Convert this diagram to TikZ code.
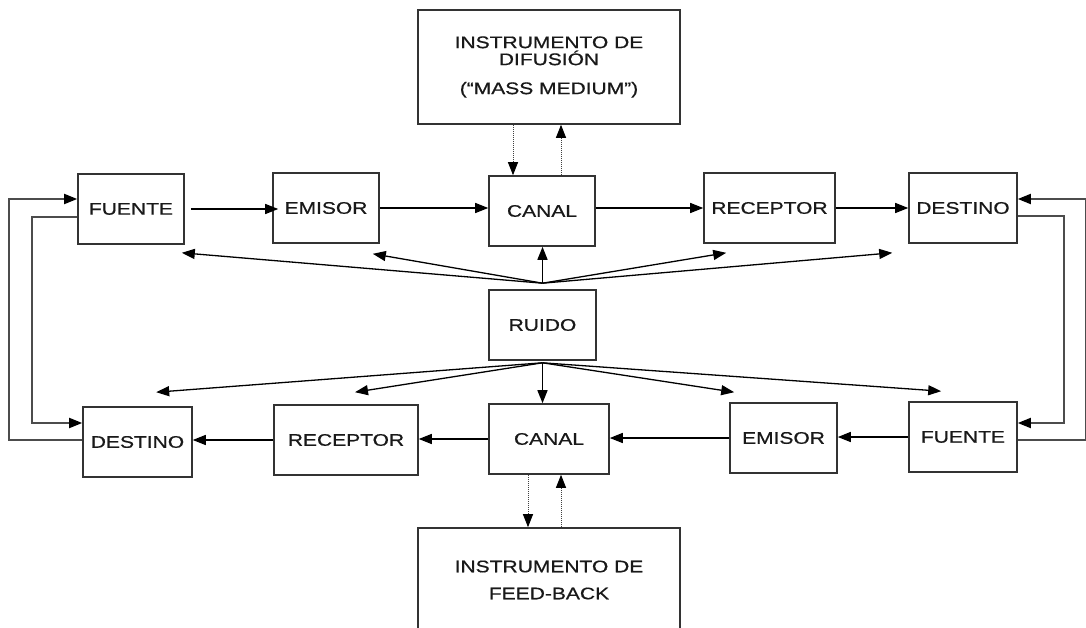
\documentclass[tikz,border=0pt]{standalone}
\usepackage{fontspec}
\setmainfont[FakeStretch=1.25,FakeBold=0.6]{Liberation Sans}
\usetikzlibrary{arrows.meta}

\begin{document}
\begin{tikzpicture}[x=1pt,y=-1pt,
    blk/.style={draw=black!80,line width=1.6pt,fill=white,inner sep=2pt,
      minimum height=70pt,text=black!90,font=\fontsize{16.8}{17}\selectfont},
    arr/.style={line width=1.3pt,-{Triangle[length=13pt,width=10pt]}},
    fb/.style={draw=black!70,line width=1.8pt,-{Triangle[length=13pt,width=10pt,color=black]}},
    dot/.style={draw=black!75,line width=1pt,densely dotted,-{Triangle[length=13pt,width=10pt,color=black]}}]
  \clip (0,0) rectangle (1086,628);
  \fill[white] (0,0) rectangle (1086,628);
  \node[blk, minimum width=262pt, minimum height=114pt, align=center](instA) at (549,67)
    {INSTRUMENTO DE\\DIFUSIÓN\\[12pt](“MASS MEDIUM”)};
  \node[blk, minimum width=106pt](fuenteA) at (131,209){FUENTE};
  \node[blk, minimum width=106pt](emisorA) at (326,208){EMISOR};
  \node[blk, minimum width=106pt](canalA) at (542,211){CANAL};
  \node[blk, minimum width=131pt](receptorA) at (769.5,208){RECEPTOR};
  \node[blk, minimum width=108pt](destinoA) at (963,208){DESTINO};
  \node[blk, minimum width=107pt](ruido) at (542.5,325){RUIDO};
  \node[blk, minimum width=109pt](destinoB) at (137.5,442){DESTINO};
  \node[blk, minimum width=144pt](receptorB) at (346,440){RECEPTOR};
  \node[blk, minimum width=120pt](canalB) at (549,439){CANAL};
  \node[blk, minimum width=107pt](emisorB) at (783.5,438){EMISOR};
  \node[blk, minimum width=108pt](fuenteB) at (963,437){FUENTE};
  \node[blk, minimum width=262pt, minimum height=104pt, align=center](instB) at (549,580)
    {INSTRUMENTO DE\\[10pt]FEED-BACK};
  \coordinate (fanTop) at ([yshift=6pt]ruido.north);
  \coordinate (fanBot) at ([yshift=-2pt]ruido.south);
  \draw[arr] ([xshift=6pt]fuenteA.east) -- ([xshift=6pt]fuenteA.east -| emisorA.west);
  \draw[arr] (emisorA.east) -- (emisorA.east -| canalA.west);
  \draw[arr] (receptorA.west -| canalA.east) -- (receptorA.west);
  \draw[arr] (receptorA.east) -- (receptorA.east -| destinoA.west);
  \draw[arr] (fuenteB.west) -- (fuenteB.west -| emisorB.east);
  \draw[arr] (emisorB.west) -- (emisorB.west -| canalB.east);
  \draw[arr] (canalB.west) -- (canalB.west -| receptorB.east);
  \draw[arr] (receptorB.west) -- (receptorB.west -| destinoB.east);
  \draw[arr] (fanTop) -- ([shift={(-3pt,-8pt)}]fuenteA.south east);
  \draw[arr] (fanTop) -- ([shift={(-7pt,-10pt)}]emisorA.south east);
  \draw[arr] (fanTop) -- (fanTop |- canalA.south);
  \draw[arr] (fanTop) -- ([shift={(23pt,-9pt)}]receptorA.south west);
  \draw[arr] (fanTop) -- ([shift={(-16pt,-9pt)}]destinoA.south west);
  \draw[arr] (fanBot) -- ([shift={(74pt,14pt)}]destinoB.north west);
  \draw[arr] (fanBot) -- ([shift={(9pt,12pt)}]receptorB.north);
  \draw[arr] (fanBot) -- (fanBot |- canalB.north);
  \draw[arr] (fanBot) -- ([shift={(5pt,10pt)}]emisorB.north west);
  \draw[arr] (fanBot) -- ([shift={(33pt,10pt)}]fuenteB.north west);
  \draw[fb] ([yshift=2pt]destinoB.west) -- ++(-73,0) |- ([yshift=10pt]fuenteA.west);
  \draw[fb] ([yshift=-8pt]fuenteA.west) -- ++(-45,0) |- ([yshift=19pt]destinoB.west);
  \draw[fb] ([yshift=-3pt]fuenteB.east) -- ++(68,0) |- ([yshift=9pt]destinoA.east);
  \draw[fb] ([yshift=-8pt]destinoA.east) -- ++(46,0) |- ([yshift=14pt]fuenteB.east);
  \draw[dot] ([xshift=-36pt]instA.south) -- ([xshift=-36pt]instA.south |- canalA.north);
  \draw[dot] ([xshift=19pt]canalA.north) -- ([xshift=19pt]canalA.north |- instA.south);
  \draw[dot] ([xshift=-21pt]canalB.south) -- ([xshift=-21pt]canalB.south |- instB.north);
  \draw[dot] ([xshift=12pt]instB.north) -- ([xshift=12pt]instB.north |- canalB.south);
\end{tikzpicture}
\end{document}
